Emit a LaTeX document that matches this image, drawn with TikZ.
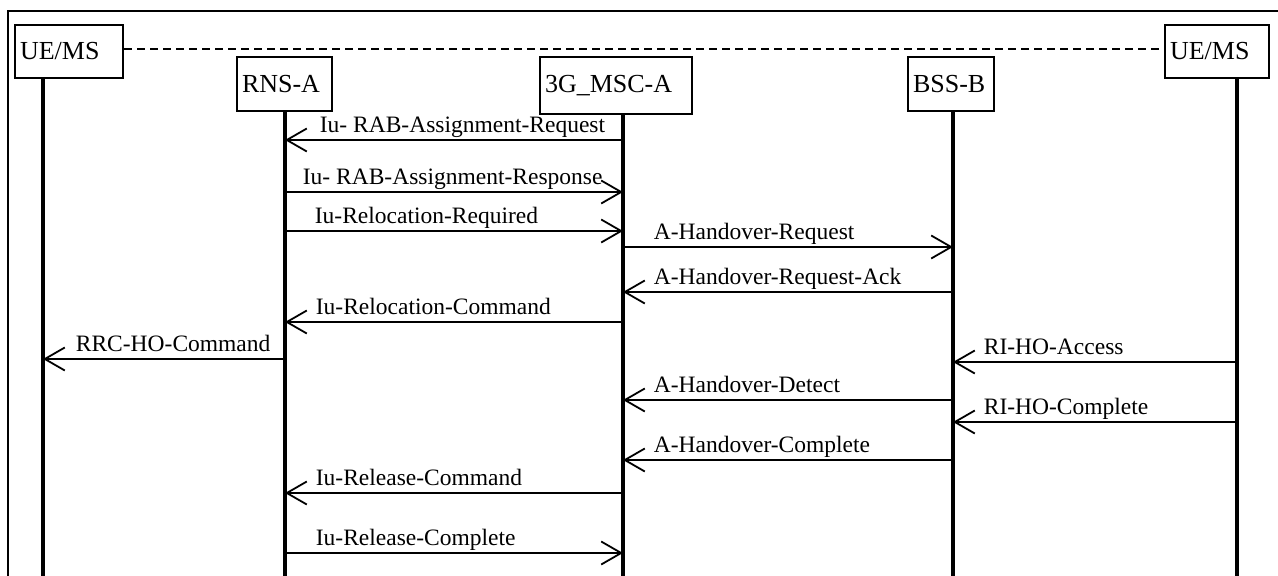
\documentclass[tikz,border=0pt]{standalone}
\usepackage{fontspec}
\setmainfont{Liberation Serif}
\usepackage{tikz}
\usetikzlibrary{arrows.meta}
\usetikzlibrary{positioning}

\begin{document}
\begin{tikzpicture}[
    x={(1pt,0)}, y={(0,-1pt)},
    every node/.style={font=\fontsize{23.5}{28}\selectfont},
    entity/.style={rectangle, draw, line width=2pt, anchor=north west,
      inner xsep=5pt, inner ysep=0pt, align=left, font=\fontsize{26}{30}\selectfont},
    life/.style={line width=3.6pt},
    msg/.style={line width=1.8pt, -{Straight Barb[length=20pt, width=23pt, line width=1.8pt]}},
    msg label/.style={anchor=base west, inner sep=0pt, xshift=30pt, yshift=8pt},
  ]
  \useasboundingbox (0,0) rectangle (1278,576);

  % frame
  \draw[line width=1.8pt] (8,580) -- (8,11) -- (1282,11);

  % entities
  \node[entity, text width=98pt,  minimum height=53pt] (ueA) at (14,24)   {UE/MS};
  \node[entity, text width=85pt,  minimum height=54pt] (rnsA) at (236,56) {RNS-A};
  \node[entity, text width=142pt, minimum height=57pt] (mscA) at (539,56) {3G\_MSC-A};
  \node[entity, text width=76pt,  minimum height=54pt] (bssB) at (907,56) {BSS-B};
  \node[entity, text width=94pt,  minimum height=53pt] (ueB) at (1164,24) {UE/MS};

  \draw[line width=2pt, dash pattern=on 8pt off 5pt] (ueA.east |- 0,49) -- (ueB.west |- 0,49);

  % lifelines
  \coordinate (ueAl)  at (43,580);
  \coordinate (rnsAl) at (285,580);
  \coordinate (mscAl) at (623,580);
  \coordinate (bssBl) at (953,580);
  \coordinate (ueBl)  at (1237,580);

  \draw[life] (ueAl |- ueA.south)   -- (ueAl);
  \draw[life] (rnsAl |- rnsA.south) -- (rnsAl);
  \draw[life] (mscAl |- mscA.south) -- (mscAl);
  \draw[life] (bssBl |- bssB.south) -- (bssBl);
  \draw[life] (ueBl |- ueB.south)   -- (ueBl);

  % messages
  \draw[msg] (mscAl |- 0,140) -- node[msg label, at end, xshift=4pt] {Iu- RAB-Assignment-Request} (rnsAl |- 0,140);
  \draw[msg] (rnsAl |- 0,192) -- node[msg label, at start, xshift=-13pt] {Iu- RAB-Assignment-Response} (mscAl |- 0,192);
  \draw[msg] (rnsAl |- 0,231) -- node[msg label, at start, xshift=-1pt] {Iu-Relocation-Required} (mscAl |- 0,231);
  \draw[msg] (mscAl |- 0,247) -- node[msg label, at start] {A-Handover-Request} (bssBl |- 0,247);
  \draw[msg] (bssBl |- 0,292) -- node[msg label, at end] {A-Handover-Request-Ack} (mscAl |- 0,292);
  \draw[msg] (mscAl |- 0,322) -- node[msg label, at end] {Iu-Relocation-Command} (rnsAl |- 0,322);
  \draw[msg] (rnsAl |- 0,359) -- node[msg label, at end, xshift=2pt] {RRC-HO-Command} (ueAl |- 0,359);
  \draw[msg] (ueBl |- 0,362)  -- node[msg label, at end] {RI-HO-Access} (bssBl |- 0,362);
  \draw[msg] (bssBl |- 0,400) -- node[msg label, at end] {A-Handover-Detect} (mscAl |- 0,400);
  \draw[msg] (ueBl |- 0,422)  -- node[msg label, at end] {RI-HO-Complete} (bssBl |- 0,422);
  \draw[msg] (bssBl |- 0,460) -- node[msg label, at end] {A-Handover-Complete} (mscAl |- 0,460);
  \draw[msg] (mscAl |- 0,493) -- node[msg label, at end] {Iu-Release-Command} (rnsAl |- 0,493);
  \draw[msg] (rnsAl |- 0,553) -- node[msg label, at start] {Iu-Release-Complete} (mscAl |- 0,553);

\end{tikzpicture}
\end{document}
